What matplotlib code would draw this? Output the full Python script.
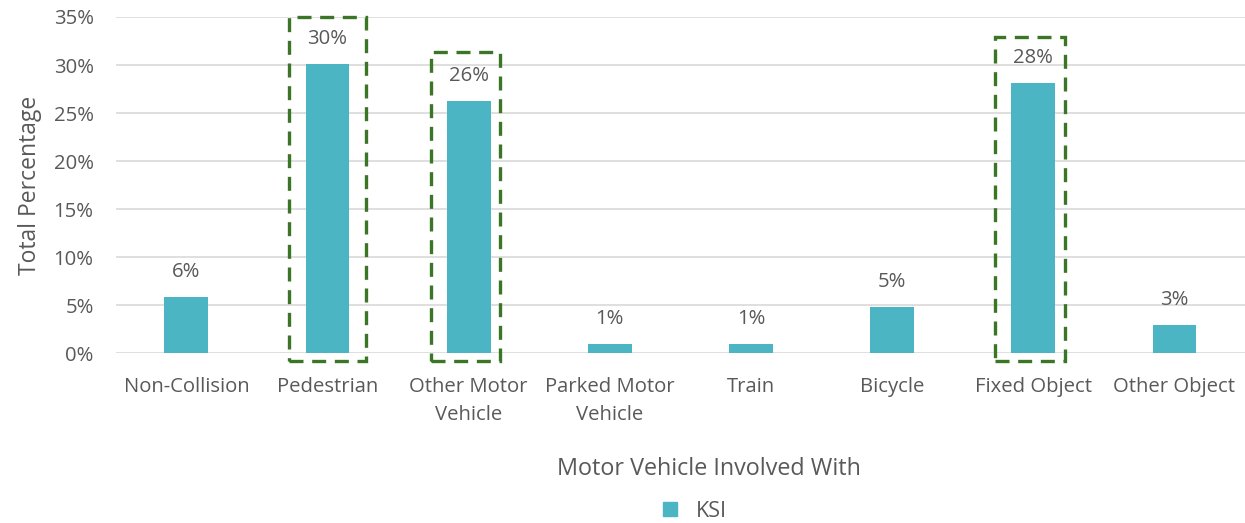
import matplotlib
matplotlib.use("Agg")
import matplotlib.pyplot as plt
from matplotlib.patches import Rectangle
from matplotlib.lines import Line2D

categories = ["Non-Collision", "Pedestrian", "Other Motor\nVehicle", "Parked Motor\nVehicle",
              "Train", "Bicycle", "Fixed Object", "Other Object"]
ksi = [5.8, 30.1, 26.2, 0.9, 0.9, 4.8, 28.1, 2.9]
labels = ["6%", "30%", "26%", "1%", "1%", "5%", "28%", "3%"]
yticks = [0, 5, 10, 15, 20, 25, 30, 35]
highlight = [1, 2, 6]
box_tops = [35.0, 31.35, 32.9]

plt.rcParams['font.family'] = ['Open Sans', 'DejaVu Sans']
txt = "#595959"
bar_color = "#4BB5C4"
green = "#3A7626"
fs = 14.6

fig = plt.figure(figsize=(12.45, 5.23), dpi=100)
ax = fig.add_axes([0.093, 0.325, 0.907, 0.6425])

x = list(range(len(categories)))
ax.bar(x, ksi, width=0.31, color=bar_color, zorder=3)
ax.set_xlim(-0.5, len(categories) - 0.5)
ax.set_ylim(0, 35)
ax.set_yticks(yticks)
ax.set_yticklabels([f"{v}%" for v in yticks], color=txt, fontsize=fs)
ax.set_xticks(x)
ax.set_xticklabels(categories, color=txt, fontsize=fs, linespacing=1.55)
ax.tick_params(length=0)
ax.tick_params(axis='y', pad=16)
ax.tick_params(axis='x', pad=17)
ax.grid(axis='y', color='#D9D9D9', linewidth=1.2, zorder=0)
for s in ax.spines.values():
    s.set_visible(False)

for xi, v, lab in zip(x, ksi, labels):
    ax.annotate(lab, (xi, v), xytext=(0, 18), textcoords='offset points',
                ha='center', va='center', color=txt, fontsize=fs, zorder=4)

for idx, top in zip(highlight, box_tops):
    left = idx - 0.27
    right = idx + (0.275 if idx == 1 else 0.225)
    r = Rectangle((left, -0.83), right - left, top + 0.83, fill=False,
                  edgecolor=green, linewidth=2.4, linestyle=(0, (4.2, 2.6)),
                  clip_on=False, zorder=5)
    ax.add_patch(r)

ax.set_ylabel("Total Percentage", color=txt, fontsize=16.5, labelpad=8)
ax.set_xlabel("Motor Vehicle Involved With", color=txt, fontsize=16.8)
ax.xaxis.set_label_coords(0.525, -0.308)

handle = Line2D([], [], marker='s', linestyle='none', markersize=9.5,
                markerfacecolor=bar_color, markeredgecolor=bar_color)
fig.legend([handle], ["KSI"], loc='center', bbox_to_anchor=(0.552, 0.022),
           frameon=False, fontsize=15.5, labelcolor=txt, handletextpad=0.2)

fig.savefig("out.png", dpi=100)
